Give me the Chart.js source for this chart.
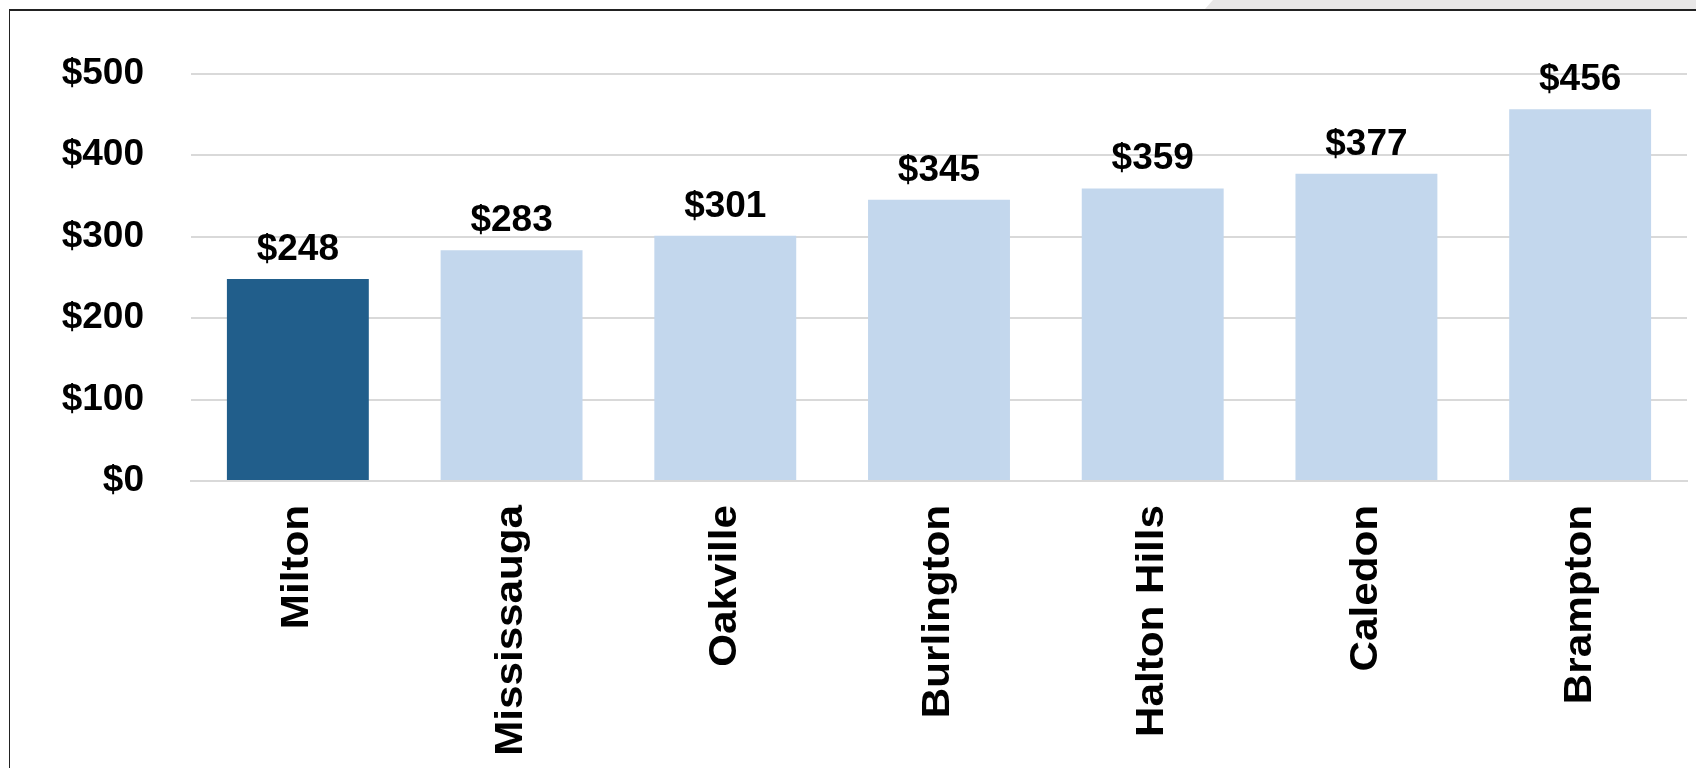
<!DOCTYPE html>
<html>
<head>
<meta charset="utf-8">
<script src="https://cdn.jsdelivr.net/npm/chart.js@4"></script>
<style>
  html, body { margin: 0; padding: 0; background: #fff; overflow: hidden; }
  #wrap { position: relative; width: 1696px; height: 768px; }
  #frame {
    position: absolute; left: 9px; top: 9px; width: 1700px; height: 770px;
    border-left: 1px solid #222; border-top: 2px solid #222;
  }
  #tab {
    position: absolute; left: 1205px; top: 0; width: 491px; height: 9px;
    background: #e8e7e7; clip-path: polygon(8px 0, 100% 0, 100% 100%, 0 100%);
  }
  #chart { position: absolute; left: 0; top: 0; }
</style>
</head>
<body>
<div id="wrap">
  <div id="tab"></div>
  <div id="frame"></div>
  <canvas id="chart" width="1696" height="768"></canvas>
</div>
<script>
  // Monthly cost by municipality
  const municipalities = ['Milton', 'Mississauga', 'Oakville', 'Burlington', 'Halton Hills', 'Caledon', 'Brampton'];
  const costs = [248, 283, 301, 345, 359, 377, 456];
  const yTicks = [0, 100, 200, 300, 400, 500];

  const barColors = municipalities.map(name => name === 'Milton' ? '#215e8b' : '#c3d7ed');
  const font = 'Liberation Sans, Arial, sans-serif';

  // Dollar value above each bar, plus the tall rotated category names
  const textLayer = {
    id: 'textLayer',
    afterDatasetsDraw(chart) {
      const ctx = chart.ctx;
      const meta = chart.getDatasetMeta(0);
      ctx.save();
      ctx.font = 'bold 37px ' + font;
      ctx.fillStyle = '#000';
      ctx.textAlign = 'center';
      ctx.textBaseline = 'alphabetic';
      meta.data.forEach((bar, i) => {
        ctx.fillText('$' + costs[i], bar.x, bar.y - 19);
      });
      ctx.restore();

      const xs = chart.scales.x;
      ctx.save();
      ctx.font = 'bold 38px ' + font;
      ctx.fillStyle = '#000';
      ctx.textAlign = 'right';
      ctx.textBaseline = 'middle';
      municipalities.forEach((name, i) => {
        ctx.save();
        ctx.translate(xs.getPixelForTick(i), xs.top + 24);
        ctx.rotate(-Math.PI / 2);
        ctx.scale(1.11, 1);
        ctx.fillText(name, 0, 0);
        ctx.restore();
      });
      ctx.restore();
    }
  };

  new Chart(document.getElementById('chart').getContext('2d'), {
    type: 'bar',
    data: {
      labels: municipalities,
      datasets: [{
        data: costs,
        backgroundColor: barColors,
        borderWidth: 0,
        categoryPercentage: 1,
        barPercentage: 0.664
      }]
    },
    options: {
      responsive: false,
      animation: false,
      layout: { padding: { top: 73.5, right: 9, left: 0, bottom: 0 } },
      plugins: { legend: { display: false }, tooltip: { enabled: false } },
      scales: {
        x: {
          grid: { display: false, drawTicks: false },
          border: { display: true, color: '#d9d9d9', width: 2 },
          ticks: { display: false, autoSkip: false },
          afterFit(scale) { scale.height = 287; }
        },
        y: {
          min: 0, max: 500,
          afterBuildTicks(scale) { scale.ticks = yTicks.map(v => ({ value: v })); },
          grid: { color: '#d9d9d9', lineWidth: 2, drawTicks: false },
          border: { display: false },
          ticks: {
            padding: 47, color: '#000',
            font: { family: font, size: 37, weight: 'bold' },
            callback: v => '$' + v
          },
          afterFit(scale) { scale.width = 191; }
        }
      }
    },
    plugins: [textLayer]
  });
</script>
</body>
</html>
